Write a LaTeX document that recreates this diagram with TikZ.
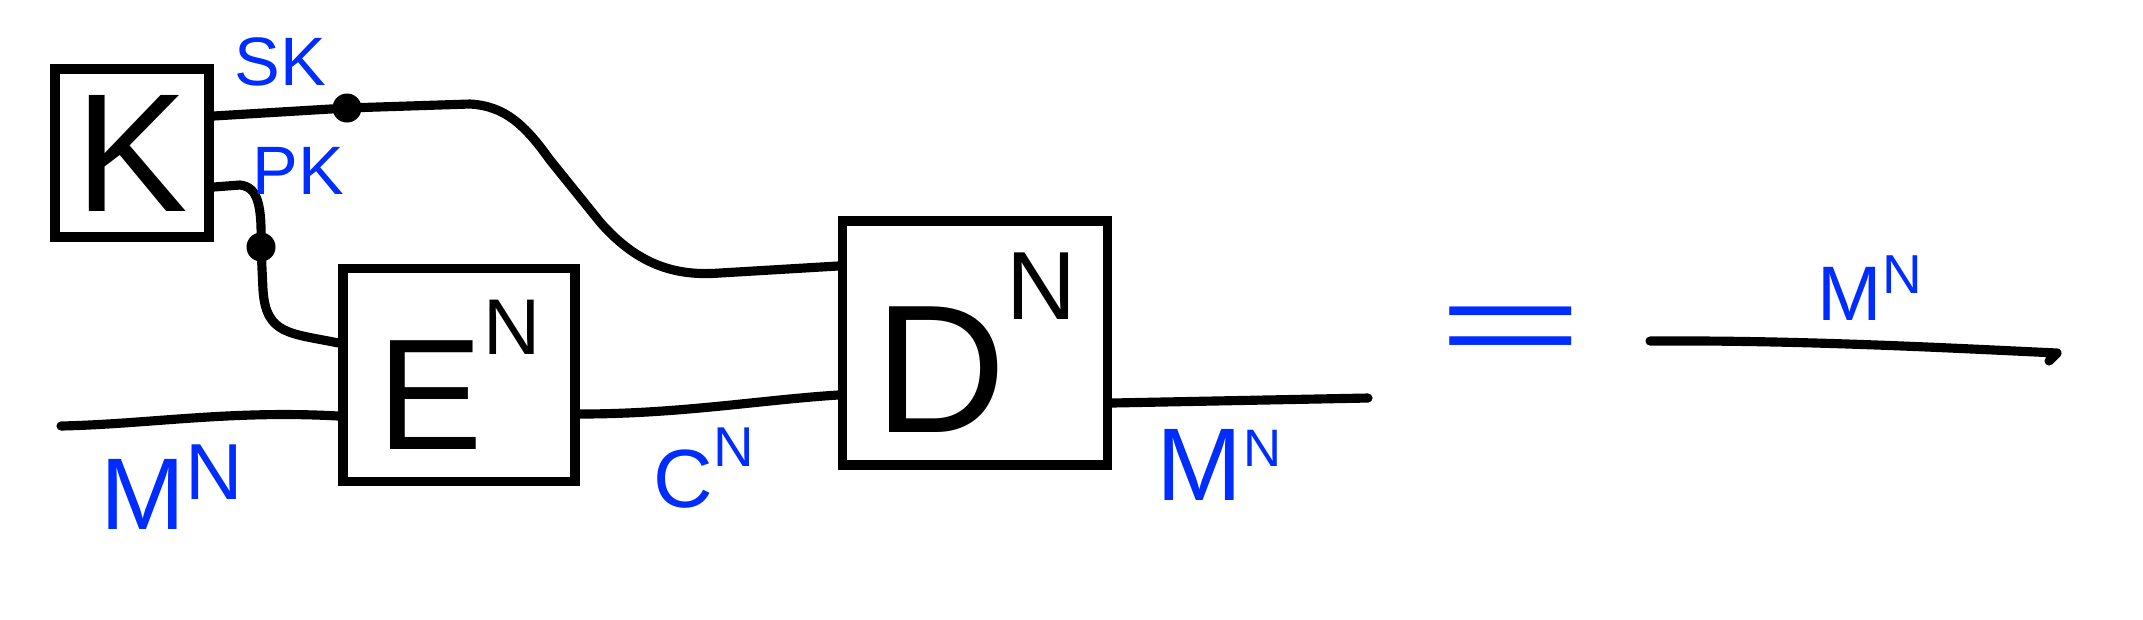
\documentclass[tikz,border=0pt]{standalone}
\usepackage{fontspec}
\setmainfont{Liberation Sans}
\usepackage{tikz}
\usetikzlibrary{calc}
\definecolor{ink}{RGB}{0,45,255}
\newcommand{\powN}[3]{#1\raisebox{#3}{\scalebox{#2}{N}}}
\tikzset{
  wire/.style={line width=2.6pt,line cap=round,line join=round},
  blk/.style={draw,line width=2.6pt,inner sep=0pt},
  dot/.style={circle,fill,inner sep=0pt,minimum size=2.9mm},
  lbl/.style={text=ink,inner sep=0pt},
}

\begin{document}
\begin{tikzpicture}[x=0.1mm,y=-0.1mm]
      \useasboundingbox (0,0) rectangle (2143,619);

      \node[blk,minimum width=15.4mm,minimum height=16.8mm,font=\fontsize{48}{48}\selectfont] (keygen) at (132,153) {K};
      \node[blk,minimum width=23.2mm,minimum height=21.3mm,font=\fontsize{45}{45}\selectfont] (enc) at (459,375) {\powN{E}{.5}{.6em}};
      \node[blk,minimum width=26.5mm,minimum height=24.4mm,font=\fontsize{52}{52}\selectfont] (dec) at (975,343) {\powN{D}{.53}{.62em}};

      \node[dot] (skdot) at (347,108) {};
      \node[dot] (pkdot) at (261,247) {};
      \coordinate (msgin) at (61,426);
      \coordinate (msgout) at (1368,398);
      \coordinate (idin) at (1650,341);
      \coordinate (idout) at (2057,353);

      \draw[wire] ($(keygen.east)+(0,-37)$) -- (skdot.center) -- (470,104) .. controls (505,106) and (525,125) .. (550,160) -- (600,222) .. controls (640,268) and (680,276) .. (720,273) -- ($(dec.west)+(0,-77)$);
      \draw[wire] ($(keygen.east)+(0,34)$) -- (240,185) .. controls (258,187) and (262,205) .. (pkdot.center) -- (263,290) .. controls (266,335) and (290,333) .. ($(enc.west)+(0,-32)$);

      \draw[wire] (msgin) .. controls (150,424) and (230,410) .. ($(enc.west)+(0,41)$);
      \draw[wire] ($(enc.east)+(0,39)$) .. controls (680,414) and (760,400) .. ($(dec.west)+(0,52)$);
      \draw[wire] ($(dec.east)+(0,60)$) -- (msgout);

      \draw[wire] (idin) .. controls (1800,340) and (1950,348) .. (idout) -- +(-8,8);

      \node[lbl,font=\fontsize{19.5}{20}\selectfont] (sk) at (280,62) {SK};
      \node[lbl,font=\fontsize{19.5}{20}\selectfont] (pk) at (298,171) {PK};
      \node[lbl,font=\fontsize{29}{29}\selectfont] (msgleft) at (172,487) {\powN{M}{.78}{.3em}};
      \node[lbl,font=\fontsize{23.5}{24}\selectfont] (ctext) at (704,468) {\powN{C}{.68}{.5em}};
      \node[lbl,font=\fontsize{29.4}{30}\selectfont] (msgmid) at (1219,465) {\powN{M}{.51}{.33em}};
      \node[lbl,font=\fontsize{22}{22}\selectfont] (msgtop) at (1870,288) {\powN{M}{.71}{.34em}};

      \node[lbl,font=\fontsize{34}{34}\selectfont,xscale=2.1] (eq) at (1511,336) {=};
    \end{tikzpicture}
\end{document}
